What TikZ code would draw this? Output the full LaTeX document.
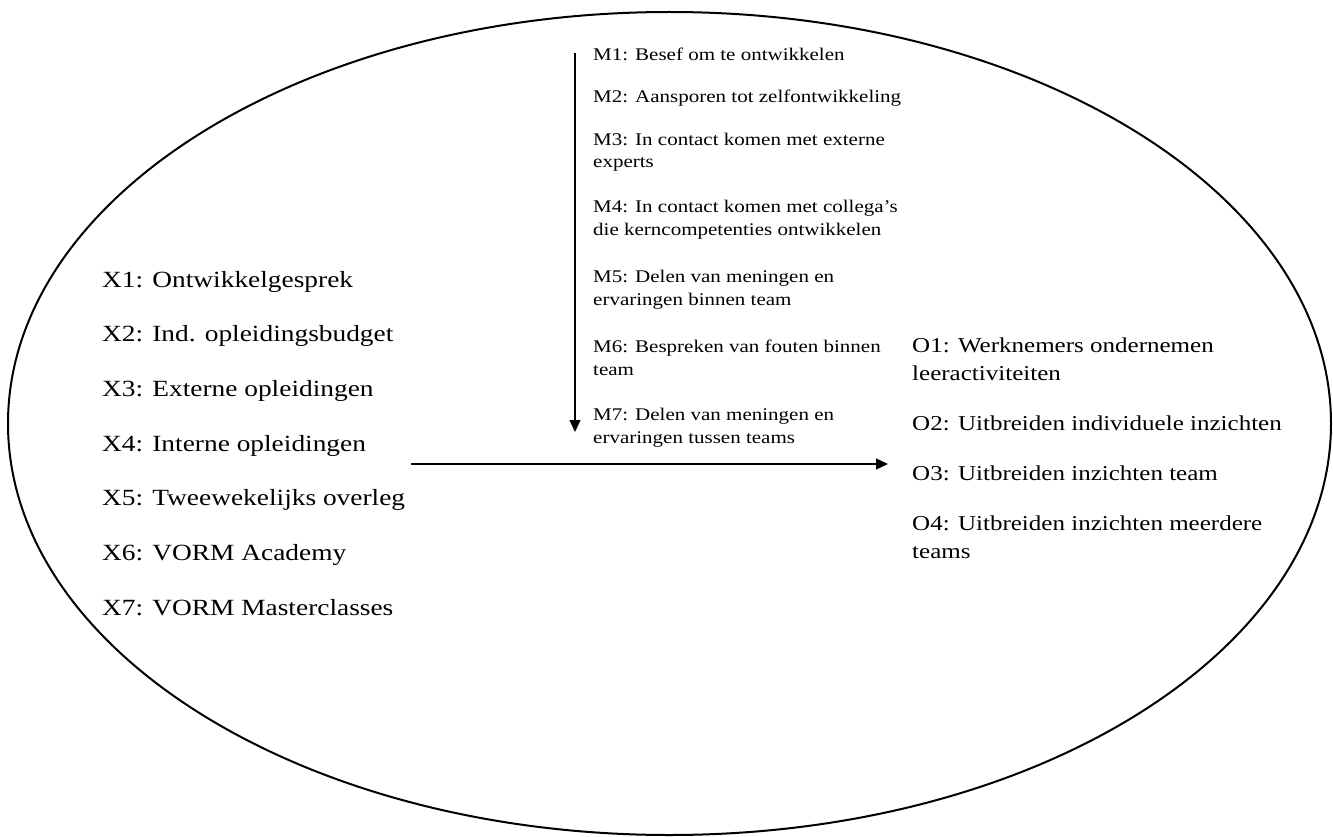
\documentclass[tikz,border=0pt]{standalone}
\usepackage{fontspec}
\setmainfont{Liberation Serif}[FakeStretch=1.18]
\usetikzlibrary{arrows.meta}
\begin{document}
\begin{tikzpicture}[x=1pt,y=-1pt,
  xtext/.style={anchor=base west, inner sep=0pt, font=\fontsize{23.2}{28}\selectfont, align=left},
  otext/.style={anchor=base west, inner sep=0pt, font=\fontsize{21.2}{28.5}\selectfont, align=left},
  mtext/.style={anchor=base west, inner sep=0pt, font=\fontsize{17.8}{22.7}\selectfont, align=left},
  arr/.style={line width=1.3pt, -{Triangle[length=12pt,width=11pt]}}]
\useasboundingbox (0,0) rectangle (1333,837);
\draw[line width=2pt] (669.5,423.5) ellipse [x radius=661.5, y radius=411.5];
% X column
\node[xtext] (x1) at (102,287) {X1: Ontwikkelgesprek};
\node[xtext] (x2) at (102,341.7) {X2: Ind. opleidingsbudget};
\node[xtext] (x3) at (102,396.3) {X3: Externe opleidingen};
\node[xtext] (x4) at (102,451) {X4: Interne opleidingen};
\node[xtext] (x5) at (102,505.7) {X5: Tweewekelijks overleg};
\node[xtext] (x6) at (102,560.3) {X6: VORM Academy};
\node[xtext] (x7) at (102,615) {X7: VORM Masterclasses};
% M column (base anchor = baseline of last line)
\node[mtext] (m1) at (593,61) {M1: Besef om te ontwikkelen};
\node[mtext] (m2) at (593,103) {M2: Aansporen tot zelfontwikkeling};
\node[mtext] (m3) at (593,168) {M3: In contact komen met externe\\experts};
\node[mtext] (m4) at (593,235.5) {M4: In contact komen met collega’s\\die kerncompetenties ontwikkelen};
\node[mtext] (m5) at (593,305) {M5: Delen van meningen en\\ervaringen binnen team};
\node[mtext] (m6) at (593,375) {M6: Bespreken van fouten binnen\\team};
\node[mtext] (m7) at (593,443) {M7: Delen van meningen en\\ervaringen tussen teams};
% O column
\node[otext] (o1) at (912,380.5) {O1: Werknemers ondernemen\\leeractiviteiten};
\node[otext] (o2) at (912,430) {O2: Uitbreiden individuele inzichten};
\node[otext] (o3) at (912,480) {O3: Uitbreiden inzichten team};
\node[otext] (o4) at (912,558.5) {O4: Uitbreiden inzichten meerdere\\teams};
% arrows
\coordinate (vs) at (575,53);
\coordinate (ve) at (575,432);
\coordinate (hs) at (411,464);
\coordinate (he) at (888,464);
\draw[arr] (vs) -- (ve);
\draw[arr] (hs) -- (he);
\end{tikzpicture}
\end{document}
